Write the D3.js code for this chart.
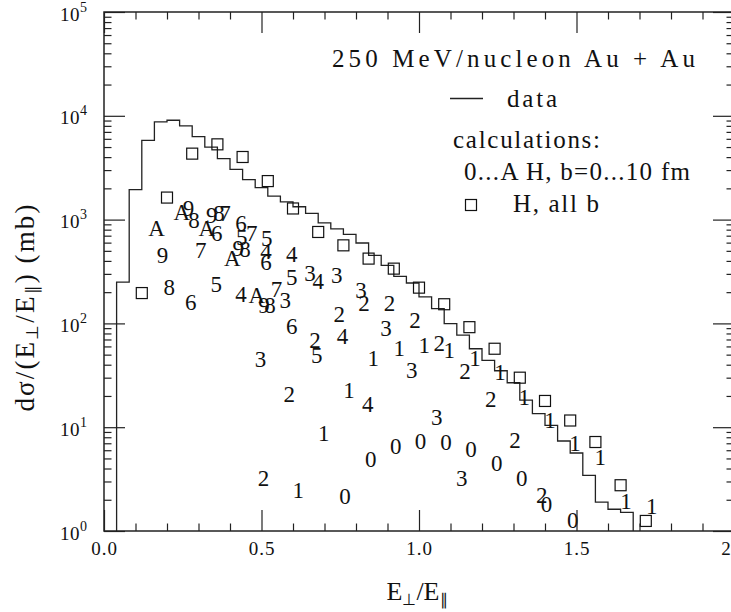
<!DOCTYPE html>
<html>
<head>
<meta charset="utf-8">
<script src="https://cdn.jsdelivr.net/npm/d3@7"></script>
<style>
    body { margin: 0; background: #fff; }
    svg { display: block; }
</style>
</head>
<body>
<div id="chart"></div>
<script>
// measured spectrum (histogram), bin left edges and heights
const histEdges = [0.04, 0.08, 0.12, 0.16, 0.20, 0.24, 0.28, 0.32, 0.36, 0.40, 0.44, 0.48, 0.52, 0.56,
    0.60, 0.64, 0.68, 0.72, 0.76, 0.80, 0.84, 0.88, 0.92, 0.96, 1.00, 1.04, 1.08, 1.12, 1.16, 1.20,
    1.24, 1.28, 1.32, 1.36, 1.40, 1.44, 1.48, 1.52, 1.56, 1.60, 1.64];
const histEnd = 1.68;
const histValues = [250, 1945, 5810, 8720, 9060, 8010, 6310, 5000, 3870, 3050, 2430, 2030, 1680, 1485,
    1330, 1150, 931, 815, 722, 595, 453, 363, 284, 245, 180, 139, 99.5, 77, 57, 44,
    35, 26.8, 18.2, 13.5, 10.4, 7.36, 5.64, 3.44, 1.90, 1.62, 1.51];

// H, all b (squares)
const allbX = [0.12, 0.20, 0.28, 0.36, 0.44, 0.52, 0.60, 0.68, 0.76, 0.84, 0.92, 1.00, 1.08,
    1.16, 1.24, 1.32, 1.40, 1.48, 1.56, 1.64, 1.72];
const allbValues = [196, 1630, 4320, 5310, 4010, 2350, 1280, 760, 565, 421, 337, 221, 153,
    92, 57, 30, 17.9, 11.6, 7.2, 2.76, 1.25];

// H for b = 0 ... 10 fm, plotted with the symbols 0 ... A
const calc0 = [[0.765, 2.16], [0.847, 4.87], [0.926, 6.55], [1.005, 7.36], [1.086, 7.20], [1.165, 6.08],
    [1.247, 4.46], [1.326, 3.20], [1.405, 1.81], [1.488, 1.27]];
const calc1 = [[0.617, 2.47], [0.698, 8.68], [0.778, 22.7], [0.855, 45.8], [0.937, 57.2], [1.017, 61.5],
    [1.096, 55.1], [1.178, 45.8], [1.257, 34.0], [1.334, 19.5], [1.416, 11.7], [1.495, 6.95],
    [1.575, 5.16], [1.657, 1.92], [1.739, 1.72]];
const calc2 = [[0.506, 3.2], [0.588, 20.6], [0.670, 68.7], [0.747, 124], [0.825, 157], [0.906, 157],
    [0.987, 107], [1.064, 64.7], [1.146, 34.8], [1.228, 18.6], [1.305, 7.48], [1.390, 2.21]];
const calc3 = [[0.497, 44.8], [0.575, 169], [0.654, 302], [0.739, 291], [0.816, 208], [0.895, 90.3],
    [0.977, 35.3], [1.056, 12.5], [1.136, 3.25]];
const calc4 = [[0.435, 191], [0.514, 498], [0.596, 460], [0.680, 256], [0.757, 75.1], [0.837, 16.6]];
const calc5 = [[0.356, 238], [0.437, 680], [0.517, 656], [0.596, 276], [0.675, 49.3]];
const calc6 = [[0.275, 161], [0.358, 743], [0.435, 915], [0.514, 391], [0.596, 93.8]];
const calc7 = [[0.307, 506], [0.384, 1158], [0.469, 743], [0.548, 212]];
const calc8 = [[0.207, 221], [0.286, 982], [0.365, 1143], [0.448, 514], [0.527, 149]];
const calc9 = [[0.186, 453], [0.268, 1276], [0.342, 1100], [0.426, 526], [0.508, 149]];
const calcA = [[0.167, 819], [0.247, 1183], [0.326, 819], [0.407, 421], [0.485, 187]];
const calcSymbols = ["0", "1", "2", "3", "4", "5", "6", "7", "8", "9", "A"];
const calcSeries = [calc0, calc1, calc2, calc3, calc4, calc5, calc6, calc7, calc8, calc9, calcA];

const xMajorTicks = [0, 0.5, 1, 1.5, 2];
const yMajorTicks = [1, 10, 100, 1000, 10000, 100000];

const FONT = "'Liberation Serif', serif";

class SpectrumChart {
    constructor(container) {
        this._container = container;
        this.width = 731;
        this.height = 612;
        // the frame runs a few pixels past the right edge of the window
        this.frame = { left: 104, right: 734, top: 12, bottom: 531 };
        this.x = d3.scaleLinear().domain([0, 2]).range([this.frame.left, this.frame.right]);
        this.y = d3.scaleLog().domain([1, 1e5]).range([this.frame.bottom, this.frame.top]);
    }

    render() {
        this.svg = d3.select(this._container)
            .append("svg")
            .attr("width", this.width)
            .attr("height", this.height)
            .style("font-family", FONT);

        this._renderHistogram();
        this._renderSquares();
        this._renderSymbols();
        this._renderAxes();
        this._renderTitles();
        this._renderLegend();
        return this;
    }

    _renderHistogram() {
        const pts = [[histEdges[0], 1]]
            .concat(histEdges.map((e, i) => [e, histValues[i]]))
            .concat([[histEnd, histValues[histValues.length - 1]], [histEnd, 1]]);

        const line = d3.line()
            .x(d => this.x(d[0]))
            .y(d => this.y(d[1]))
            .curve(d3.curveStepAfter);

        this.svg.append("path")
            .attr("d", line(pts))
            .attr("fill", "none")
            .attr("stroke", "#222")
            .attr("stroke-width", 1.3);
    }

    _renderSquares() {
        const s = 11;
        this.svg.append("g")
            .selectAll("rect")
            .data(allbX.map((v, i) => [v, allbValues[i]]))
            .join("rect")
            .attr("x", d => this.x(d[0]) - s / 2)
            .attr("y", d => this.y(d[1]) - s / 2)
            .attr("width", s)
            .attr("height", s)
            .attr("fill", "none")
            .attr("stroke", "#111")
            .attr("stroke-width", 1.2);
    }

    _renderSymbols() {
        const g = this.svg.append("g")
            .style("font-family", FONT)
            .attr("font-size", 23)
            .attr("text-anchor", "middle")
            .attr("fill", "#111");

        calcSeries.forEach((series, i) => {
            g.selectAll(null)
                .data(series)
                .join("text")
                .attr("x", d => this.x(d[0]))
                .attr("y", d => this.y(d[1]) + 7.8)
                .text(calcSymbols[i]);
        });
    }

    _renderAxes() {
        const { left, right, top, bottom } = this.frame;
        const xMinor = d3.range(0, 21).map(i => i / 10).filter(v => !xMajorTicks.includes(v));
        const yMinor = this.y.ticks().filter(v => !yMajorTicks.includes(v));

        const style = g => {
            g.select(".domain").remove();
            g.selectAll("line").attr("stroke", "#222").attr("stroke-width", 1.2);
            g.attr("font-family", null).style("font-family", FONT);
        };

        // bottom
        this.svg.append("g")
            .attr("transform", `translate(0,${bottom})`)
            .call(d3.axisBottom(this.x).tickValues(xMajorTicks).tickSize(-21).tickPadding(11)
                .tickFormat(d3.format(".1f")))
            .call(style)
            .call(g => g.selectAll("text")
                .attr("font-size", 19)
                .attr("letter-spacing", 1)
                .attr("fill", "#111"));
        this.svg.append("g")
            .attr("transform", `translate(0,${bottom})`)
            .call(d3.axisBottom(this.x).tickValues(xMinor).tickSize(-7.5).tickFormat(""))
            .call(style);

        // top
        this.svg.append("g")
            .attr("transform", `translate(0,${top})`)
            .call(d3.axisTop(this.x).tickValues(xMajorTicks).tickSize(-21).tickFormat(""))
            .call(style);
        this.svg.append("g")
            .attr("transform", `translate(0,${top})`)
            .call(d3.axisTop(this.x).tickValues(xMinor).tickSize(-7.5).tickFormat(""))
            .call(style);

        // left, labels as 10 with a raised exponent
        this.svg.append("g")
            .attr("transform", `translate(${left},0)`)
            .call(d3.axisLeft(this.y).tickValues(yMajorTicks).tickSize(-21).tickPadding(17))
            .call(style)
            .call(g => {
                const t = g.selectAll(".tick text")
                    .attr("fill", "#111")
                    .attr("font-size", 19)
                    .attr("dy", 8)
                    .text(null);
                t.append("tspan").attr("letter-spacing", 0.5).text("10");
                t.append("tspan")
                    .attr("font-size", 14)
                    .attr("dy", -9)
                    .text(d => Math.round(Math.log10(d)));
            });
        this.svg.append("g")
            .attr("transform", `translate(${left},0)`)
            .call(d3.axisLeft(this.y).tickValues(yMinor).tickSize(-7.5).tickFormat(""))
            .call(style);

        // right
        this.svg.append("g")
            .attr("transform", `translate(${right},0)`)
            .call(d3.axisRight(this.y).tickValues(yMajorTicks).tickSize(-21).tickFormat(""))
            .call(style);
        this.svg.append("g")
            .attr("transform", `translate(${right},0)`)
            .call(d3.axisRight(this.y).tickValues(yMinor).tickSize(-7.5).tickFormat(""))
            .call(style);

        this.svg.append("rect")
            .attr("x", left)
            .attr("y", top)
            .attr("width", right - left)
            .attr("height", bottom - top)
            .attr("fill", "none")
            .attr("stroke", "#222")
            .attr("stroke-width", 1.5);
    }

    _renderTitles() {
        const xt = this.svg.append("text")
            .attr("x", this.x(1) - 2)
            .attr("y", 600)
            .attr("text-anchor", "middle")
            .attr("font-size", 26)
            .attr("fill", "#111");
        xt.append("tspan").text("E");
        xt.append("tspan").attr("font-size", 16).attr("dy", 5).text("⊥");
        xt.append("tspan").attr("dy", -5).text("/E");
        xt.append("tspan").attr("font-size", 16).attr("dy", 5).text("∥");

        const yt = this.svg.append("text")
            .attr("transform", "translate(34,308) rotate(-90)")
            .attr("text-anchor", "middle")
            .attr("font-size", 27)
            .attr("textLength", 207)
            .attr("lengthAdjust", "spacing")
            .attr("fill", "#111");
        yt.append("tspan").text("dσ/(E");
        yt.append("tspan").attr("font-size", 17).attr("dy", 4).text("⊥");
        yt.append("tspan").attr("dy", -4).text("/E");
        yt.append("tspan").attr("font-size", 17).attr("dy", 4).text("∥");
        yt.append("tspan").attr("dy", -4).text(") (mb)");
    }

    _renderLegend() {
        const g = this.svg.append("g")
            .attr("font-size", 25)
            .attr("fill", "#111");

        const label = (x, y, len, str) => g.append("text")
            .attr("x", x)
            .attr("y", y)
            .attr("textLength", len)
            .attr("lengthAdjust", "spacing")
            .text(str);

        label(332, 67, 363, "250 MeV/nucleon Au + Au");

        g.append("line")
            .attr("x1", 450).attr("x2", 483)
            .attr("y1", 98.5).attr("y2", 98.5)
            .attr("stroke", "#222")
            .attr("stroke-width", 1.3);
        label(507, 107, 50, "data");

        label(453, 148, 147, "calculations:");
        label(464, 180, 226, "0...A H, b=0...10 fm");

        g.append("rect")
            .attr("x", 465.5).attr("y", 199.5)
            .attr("width", 11).attr("height", 11)
            .attr("fill", "none")
            .attr("stroke", "#111")
            .attr("stroke-width", 1.2);
        label(513, 212, 86, "H, all b");
    }
}

new SpectrumChart(document.getElementById("chart")).render();
</script>
</body>
</html>
